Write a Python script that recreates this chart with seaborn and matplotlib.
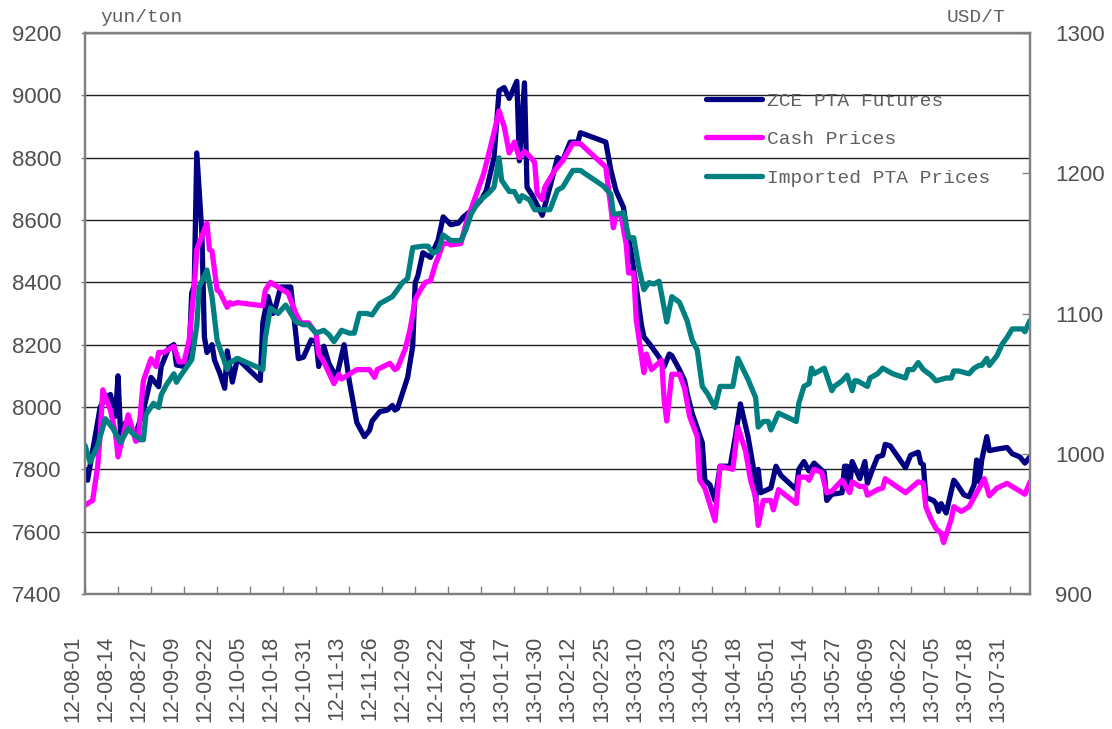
import matplotlib
matplotlib.use("Agg")
import matplotlib.pyplot as plt
import matplotlib.dates as mdates
from matplotlib.transforms import ScaledTranslation
import pandas as pd
import seaborn as sns

# ---------------- data ----------------
fut_dates = ["2012-08-01","2012-08-02","2012-08-07","2012-08-09","2012-08-11","2012-08-13","2012-08-14","2012-08-15",
 "2012-08-17","2012-08-21","2012-08-24","2012-08-27","2012-08-30","2012-08-31","2012-09-03","2012-09-05","2012-09-06",
 "2012-09-09","2012-09-11","2012-09-12","2012-09-13","2012-09-14","2012-09-16","2012-09-17","2012-09-18","2012-09-20",
 "2012-09-21","2012-09-23","2012-09-25","2012-09-26","2012-09-28","2012-09-30","2012-10-09","2012-10-10","2012-10-12",
 "2012-10-14","2012-10-15","2012-10-17","2012-10-21","2012-10-22","2012-10-24","2012-10-26","2012-10-29","2012-10-31",
 "2012-11-01","2012-11-03","2012-11-05","2012-11-08","2012-11-11","2012-11-13","2012-11-16","2012-11-19","2012-11-21",
 "2012-11-22","2012-11-25","2012-11-28","2012-11-30","2012-12-01","2012-12-02","2012-12-06","2012-12-08","2012-12-09",
 "2012-12-10","2012-12-12","2012-12-15","2012-12-18","2012-12-20","2012-12-23","2012-12-26","2012-12-28","2012-12-31",
 "2013-01-04","2013-01-06","2013-01-09","2013-01-11","2013-01-13","2013-01-15","2013-01-18","2013-01-19","2013-01-21",
 "2013-01-22","2013-01-24","2013-01-28","2013-01-31","2013-02-03","2013-02-05","2013-02-08","2013-02-11","2013-02-12",
 "2013-02-22","2013-02-24","2013-02-26","2013-03-01","2013-03-02","2013-03-04","2013-03-06","2013-03-08","2013-03-09",
 "2013-03-11","2013-03-15","2013-03-17","2013-03-19","2013-03-20","2013-03-23","2013-03-25","2013-03-26","2013-03-28",
 "2013-04-01","2013-04-02","2013-04-04","2013-04-06","2013-04-08","2013-04-12","2013-04-14","2013-04-16","2013-04-19",
 "2013-04-21","2013-04-22","2013-04-23","2013-04-24","2013-04-28","2013-04-30","2013-05-02","2013-05-08","2013-05-09",
 "2013-05-11","2013-05-13","2013-05-15","2013-05-19","2013-05-20","2013-05-22","2013-05-26","2013-05-27","2013-05-28",
 "2013-05-29","2013-05-30","2013-06-02","2013-06-04","2013-06-05","2013-06-07","2013-06-09","2013-06-11","2013-06-12",
 "2013-06-14","2013-06-17","2013-06-20","2013-06-22","2013-06-25","2013-06-26","2013-06-27","2013-06-28","2013-07-01",
 "2013-07-02","2013-07-03","2013-07-04","2013-07-06","2013-07-09","2013-07-10","2013-07-13","2013-07-15","2013-07-17",
 "2013-07-18","2013-07-19","2013-07-20","2013-07-22","2013-07-23","2013-07-26","2013-07-30","2013-08-01","2013-08-04",
 "2013-08-06","2013-08-08"]
fut_vals = [7800,7765,8000,8030,8040,7970,8100,7915,
 7950,7915,7990,8095,8065,8130,8190,8200,8135,
 8130,8170,8365,8390,8815,8560,8225,8175,8200,
 8150,8110,8060,8180,8080,8155,8085,8270,8355,
 8300,8320,8385,8385,8310,8155,8160,8215,8210,
 8130,8195,8140,8095,8200,8085,7950,7905,7925,
 7955,7985,7990,8005,7990,7995,8095,8195,8400,
 8420,8495,8480,8535,8610,8585,8590,8610,8630,
 8665,8695,8800,9015,9025,8990,9045,8790,9040,
 8705,8680,8615,8705,8800,8790,8850,8850,8880,
 8850,8760,8695,8640,8580,8495,8385,8265,8225,
 8205,8160,8130,8170,8165,8120,8085,8045,7980,
 7885,7765,7750,7700,7810,7810,7905,8010,7905,
 7810,7700,7800,7725,7740,7810,7780,7735,7800,
 7825,7795,7820,7790,7700,7720,7725,7810,7810,
 7745,7825,7770,7825,7755,7800,7840,7845,7880,
 7875,7840,7805,7845,7855,7820,7815,7710,7700,
 7690,7665,7690,7660,7765,7755,7718,7712,7750,
 7830,7760,7830,7905,7860,7865,7870,7850,7840,
 7820,7840]

cash_dates = ["2012-08-01","2012-08-04","2012-08-06","2012-08-07","2012-08-08","2012-08-11","2012-08-13","2012-08-14",
 "2012-08-18","2012-08-21","2012-08-22","2012-08-23","2012-08-24","2012-08-27","2012-08-29","2012-08-30","2012-09-01",
 "2012-09-05","2012-09-07","2012-09-09","2012-09-11","2012-09-13","2012-09-14","2012-09-18","2012-09-19","2012-09-20",
 "2012-09-22","2012-09-23","2012-09-26","2012-09-27","2012-09-28","2012-09-30","2012-10-10","2012-10-11","2012-10-13",
 "2012-10-18","2012-10-20","2012-10-23","2012-10-25","2012-10-28","2012-10-31","2012-11-01","2012-11-03","2012-11-05",
 "2012-11-07","2012-11-09","2012-11-10","2012-11-12","2012-11-16","2012-11-21","2012-11-23","2012-11-24","2012-11-29",
 "2012-12-01","2012-12-02","2012-12-05","2012-12-07","2012-12-09","2012-12-11","2012-12-13","2012-12-15","2012-12-17",
 "2012-12-18","2012-12-20","2012-12-22","2012-12-23","2012-12-27","2012-12-29","2013-01-05","2013-01-09","2013-01-11",
 "2013-01-13","2013-01-15","2013-01-17","2013-01-19","2013-01-21","2013-01-23","2013-01-25","2013-01-26","2013-01-28",
 "2013-01-29","2013-02-02","2013-02-05","2013-02-09","2013-02-12","2013-02-22","2013-02-23","2013-02-25","2013-02-26",
 "2013-02-28","2013-03-02","2013-03-03","2013-03-05","2013-03-06","2013-03-09","2013-03-10","2013-03-12","2013-03-16",
 "2013-03-17","2013-03-18","2013-03-20","2013-03-23","2013-03-25","2013-03-27","2013-03-30","2013-03-31","2013-04-02",
 "2013-04-06","2013-04-08","2013-04-13","2013-04-15","2013-04-18","2013-04-20","2013-04-22","2013-04-23","2013-04-25",
 "2013-04-28","2013-04-29","2013-05-01","2013-05-08","2013-05-09","2013-05-12","2013-05-13","2013-05-15","2013-05-18",
 "2013-05-20","2013-05-22","2013-05-26","2013-05-29","2013-05-30","2013-06-02","2013-06-04","2013-06-05","2013-06-09",
 "2013-06-11","2013-06-12","2013-06-20","2013-06-25","2013-06-27","2013-06-28","2013-06-30","2013-07-02","2013-07-04",
 "2013-07-05","2013-07-08","2013-07-09","2013-07-12","2013-07-15","2013-07-17","2013-07-19","2013-07-21","2013-07-23",
 "2013-07-26","2013-07-30","2013-08-03","2013-08-06","2013-08-08"]
cash_vals = [7685,7700,7810,7915,8055,7990,7915,7840,
 7975,7890,7895,8000,8085,8155,8130,8175,8175,
 8195,8145,8145,8215,8385,8505,8590,8505,8500,
 8375,8370,8320,8335,8330,8335,8325,8375,8400,
 8375,8365,8300,8270,8270,8235,8170,8145,8110,
 8075,8105,8090,8100,8120,8120,8095,8120,8140,
 8120,8125,8185,8250,8345,8375,8400,8405,8460,
 8480,8525,8525,8520,8525,8590,8750,8880,8950,
 8900,8815,8850,8800,8820,8805,8785,8685,8665,
 8705,8760,8790,8845,8845,8770,8705,8575,8615,
 8615,8525,8430,8430,8280,8110,8170,8120,8150,
 8020,7955,8105,8105,8060,7970,7905,7765,7740,
 7635,7810,7800,7935,7860,7765,7710,7620,7700,
 7700,7670,7735,7690,7775,7775,7765,7800,7790,
 7725,7730,7765,7725,7760,7745,7745,7717,7735,
 7740,7770,7725,7760,7755,7680,7640,7610,7595,
 7565,7640,7680,7665,7680,7710,7740,7770,7715,
 7740,7755,7735,7720,7760]

imp_dates = ["2012-08-01","2012-08-03","2012-08-06","2012-08-09","2012-08-12","2012-08-15","2012-08-18","2012-08-20",
 "2012-08-23","2012-08-24","2012-08-25","2012-08-28","2012-08-30","2012-08-31","2012-09-02","2012-09-05","2012-09-06",
 "2012-09-07","2012-09-12","2012-09-14","2012-09-15","2012-09-18","2012-09-20","2012-09-22","2012-09-26","2012-09-27",
 "2012-09-30","2012-10-10","2012-10-11","2012-10-13","2012-10-16","2012-10-19","2012-10-21","2012-10-23","2012-10-26",
 "2012-10-28","2012-10-31","2012-11-03","2012-11-05","2012-11-07","2012-11-10","2012-11-13","2012-11-15","2012-11-17",
 "2012-11-20","2012-11-22","2012-11-25","2012-11-28","2012-11-30","2012-12-02","2012-12-04","2012-12-06","2012-12-08",
 "2012-12-12","2012-12-14","2012-12-16","2012-12-18","2012-12-20","2012-12-23","2012-12-27","2012-12-29","2012-12-31",
 "2013-01-03","2013-01-07","2013-01-09","2013-01-11","2013-01-12","2013-01-15","2013-01-17","2013-01-19","2013-01-20",
 "2013-01-23","2013-01-25","2013-01-27","2013-01-31","2013-02-03","2013-02-05","2013-02-09","2013-02-12","2013-02-21",
 "2013-02-24","2013-02-25","2013-02-27","2013-03-01","2013-03-03","2013-03-05","2013-03-07","2013-03-09","2013-03-11",
 "2013-03-13","2013-03-15","2013-03-18","2013-03-20","2013-03-23","2013-03-26","2013-03-28","2013-03-30","2013-04-01",
 "2013-04-03","2013-04-06","2013-04-08","2013-04-13","2013-04-15","2013-04-19","2013-04-22","2013-04-23","2013-04-25",
 "2013-04-27","2013-04-28","2013-05-01","2013-05-08","2013-05-09","2013-05-11","2013-05-13","2013-05-14","2013-05-15",
 "2013-05-19","2013-05-22","2013-05-23","2013-05-26","2013-05-28","2013-05-30","2013-05-31","2013-06-01","2013-06-03",
 "2013-06-05","2013-06-06","2013-06-09","2013-06-11","2013-06-15","2013-06-20","2013-06-21","2013-06-23","2013-06-25",
 "2013-06-27","2013-06-30","2013-07-02","2013-07-06","2013-07-08","2013-07-09","2013-07-11","2013-07-15","2013-07-17",
 "2013-07-19","2013-07-20","2013-07-22","2013-07-23","2013-07-26","2013-07-28","2013-07-30","2013-08-01","2013-08-05",
 "2013-08-06","2013-08-08"]
imp_vals = [1006,994,1006,1025,1018,1008,1018,1014,
 1010,1010,1028,1036,1033,1042,1049,1057,1051,
 1054,1067,1091,1119,1131,1112,1081,1060,1065,
 1068,1060,1083,1104,1100,1106,1100,1094,1092,
 1092,1086,1088,1085,1080,1088,1086,1086,1100,
 1100,1099,1107,1110,1112,1117,1122,1125,1147,
 1148,1148,1143,1145,1156,1152,1152,1160,1171,
 1180,1186,1190,1211,1195,1187,1187,1180,1184,
 1181,1174,1174,1174,1188,1190,1202,1202,1191,
 1185,1171,1171,1172,1154,1154,1133,1117,1122,
 1121,1123,1094,1112,1108,1095,1081,1074,1048,
 1043,1033,1048,1048,1068,1053,1040,1019,1023,
 1023,1017,1029,1023,1036,1048,1050,1061,1057,
 1061,1045,1048,1052,1056,1045,1052,1052,1050,
 1048,1054,1057,1061,1057,1054,1060,1060,1065,
 1060,1056,1052,1054,1054,1059,1059,1057,1061,
 1063,1063,1068,1063,1070,1078,1083,1089,1089,
 1087,1095]

series_names = ["ZCE PTA Futures", "Cash Prices", "Imported PTA Prices"]
series_colors = ["#000080", "#FF00FF", "#008080"]
left_ticks = list(range(7400, 9201, 200))
right_ticks = list(range(900, 1301, 100))
xtick_start, xtick_step_days, xtick_count = "2012-08-01", 13, 29
x_start, x_end = "2012-08-01", "2013-08-08"
left_unit, right_unit = "yun/ton", "USD/T"

# ---------------- frames ----------------
fut = pd.DataFrame({"date": pd.to_datetime(fut_dates), "value": fut_vals})
cash = pd.DataFrame({"date": pd.to_datetime(cash_dates), "value": cash_vals})
imp = pd.DataFrame({"date": pd.to_datetime(imp_dates), "value": imp_vals})

sns.set_theme(style="white")
plt.rcParams["font.family"] = ["Liberation Sans", "DejaVu Sans"]

W, H, DPI = 1112, 729, 100
fig = plt.figure(figsize=(W / DPI, H / DPI), dpi=DPI)
ax = fig.add_axes([85 / W, 1 - 594 / H, (1030 - 85) / W, (594 - 33) / H])
ax2 = ax.twinx()

lw = 3.8
sns.lineplot(data=fut, x="date", y="value", ax=ax, color=series_colors[0], lw=lw,
             label=series_names[0], legend=False, sort=False, solid_capstyle="round")
sns.lineplot(data=cash, x="date", y="value", ax=ax, color=series_colors[1], lw=lw,
             label=series_names[1], legend=False, sort=False, solid_capstyle="round")
sns.lineplot(data=imp, x="date", y="value", ax=ax2, color=series_colors[2], lw=lw,
             label=series_names[2], legend=False, sort=False, solid_capstyle="round")

spine_c = "#808080"
txt_c = "#505050"
soft_c = "#606060"

ax.set_xlim(pd.Timestamp(x_start), pd.Timestamp(x_end))
ax.set_ylim(left_ticks[0], left_ticks[-1])
ax2.set_ylim(right_ticks[0], right_ticks[-1])
ax.set_yticks(left_ticks)
ax2.set_yticks(right_ticks)
ax.set_xlabel("")
ax.set_ylabel("")
ax2.set_ylabel("")

ax.grid(axis="y", color="#202020", lw=1.0)
ax.grid(axis="x", visible=False)
ax2.grid(False)
for a in (ax, ax2):
    for s in a.spines.values():
        s.set_color(spine_c)
        s.set_linewidth(1.6)

ax.tick_params(axis="y", which="major", direction="out", length=3, width=1, color=spine_c,
               labelsize=16, labelcolor=txt_c, pad=14)
ax2.tick_params(axis="y", which="major", direction="in", length=6, width=1, color=spine_c,
                labelsize=16, labelcolor=txt_c, pad=18)

xt = pd.date_range(xtick_start, periods=xtick_count, freq=f"{xtick_step_days}D")
ax.set_xticks(xt)
ax.xaxis.set_major_formatter(mdates.DateFormatter("%y-%m-%d"))
ax.tick_params(axis="x", which="major", direction="in", length=6, width=1, color=spine_c,
               labelsize=15.5, labelcolor=txt_c, rotation=90, pad=30, bottom=True)
shift = ScaledTranslation(-12 / DPI, 0, fig.dpi_scale_trans)
for lbl in ax.get_xticklabels():
    lbl.set_verticalalignment("top")
    lbl.set_horizontalalignment("center")
    lbl.set_transform(lbl.get_transform() + shift)

# legend (frameless)
h1, l1 = ax.get_legend_handles_labels()
h2, l2 = ax2.get_legend_handles_labels()
leg = ax2.legend(h1 + h2, l1 + l2, loc="upper left",
                 bbox_to_anchor=((706 - 85) / 945, (594 - 92) / 561),
                 frameon=False, borderpad=0, borderaxespad=0,
                 handlelength=2.9, handletextpad=0.25, labelspacing=1.08,
                 prop={"family": "Liberation Mono", "size": 14}, labelcolor=soft_c)

# unit labels
fig.text(100 / W, 1 - 17 / H, left_unit, family="Liberation Mono", size=14, color=soft_c,
         ha="left", va="center")
fig.text(1005 / W, 1 - 17 / H, right_unit, family="Liberation Mono", size=14, color=soft_c,
         ha="right", va="center")

fig.savefig("out.png", dpi=DPI)
